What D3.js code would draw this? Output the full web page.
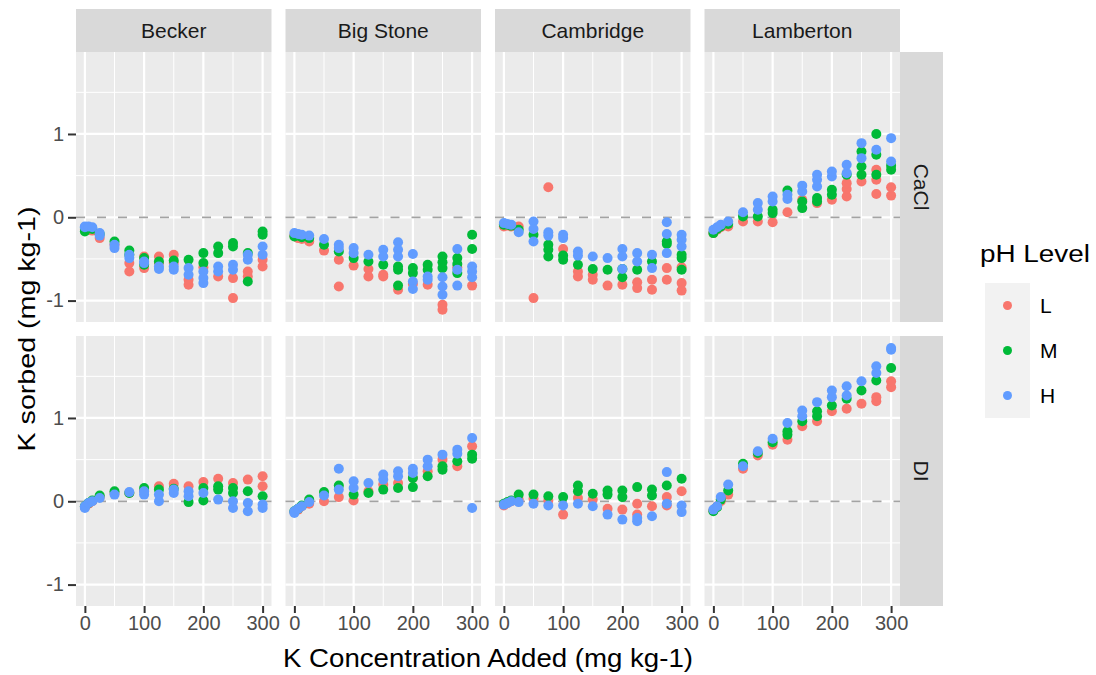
<!DOCTYPE html>
<html>
<head>
<meta charset="utf-8">
<script src="https://cdn.jsdelivr.net/npm/d3@7/dist/d3.min.js"></script>
<style>
  html, body { margin: 0; padding: 0; background: #ffffff; }
  svg { display: block; font-family: "Liberation Sans", Arial, sans-serif; }
</style>
</head>
<body>
<svg id="chart" width="1096" height="675"></svg>
<script>
// ---------------- data ----------------
const sites = ["Becker", "Big Stone", "Cambridge", "Lamberton"];
const solutions = ["CaCl", "DI"];
const phLevels = ["L", "M", "H"];
const phColors = ["#F8766D", "#00BA38", "#619CFF"];
const xTicks = [0, 100, 200, 300];
const yTicks = [-1, 0, 1];
const xMinor = [50, 150, 250];
const yMinor = [-0.5, 0.5, 1.5];

// rows: [K added, L values, M values, H values]
const beckerCaCl = [
  [0, [-0.15], [-0.17, -0.13], [-0.11, -0.12]],
  [6.25, [-0.15], [-0.13], [-0.11]],
  [12.5, [-0.16], [-0.14], [-0.12]],
  [25, [-0.25], [-0.2], [-0.19, -0.22]],
  [50, [-0.33], [-0.29], [-0.33, -0.37]],
  [75, [-0.55, -0.65], [-0.4, -0.45], [-0.45, -0.49]],
  [100, [-0.47, -0.61], [-0.49, -0.57], [-0.53, -0.55]],
  [125, [-0.47, -0.55], [-0.53], [-0.59, -0.62]],
  [150, [-0.45, -0.55], [-0.52], [-0.59, -0.63]],
  [175, [-0.75, -0.81], [-0.51], [-0.61, -0.69]],
  [200, [-0.6], [-0.43, -0.55], [-0.65, -0.73, -0.79]],
  [225, [-0.71], [-0.35, -0.43], [-0.59, -0.65]],
  [250, [-0.73, -0.97], [-0.31, -0.35], [-0.57, -0.63]],
  [275, [-0.65, -0.71], [-0.43, -0.77], [-0.45, -0.51]],
  [300, [-0.51, -0.59], [-0.17, -0.21], [-0.35, -0.45]]
];
const bigStoneCaCl = [
  [0, [-0.22], [-0.23], [-0.19]],
  [6.25, [-0.25], [-0.22], [-0.2]],
  [12.5, [-0.26], [-0.24], [-0.21]],
  [25, [-0.29], [-0.25], [-0.22]],
  [50, [-0.4], [-0.33], [-0.26]],
  [75, [-0.51, -0.83], [-0.41], [-0.33, -0.37]],
  [100, [-0.58], [-0.49], [-0.37, -0.43]],
  [125, [-0.62, -0.71], [-0.53], [-0.45]],
  [150, [-0.69, -0.71], [-0.57], [-0.39, -0.47]],
  [175, [-0.87], [-0.59, -0.63, -0.82], [-0.3, -0.39, -0.47]],
  [200, [-0.8], [-0.61, -0.67], [-0.44, -0.77, -0.86]],
  [225, [-0.81], [-0.57, -0.63], [-0.71, -0.75]],
  [250, [-1.05, -1.11], [-0.47, -0.54, -0.61], [-0.72, -0.83, -0.93]],
  [275, [-0.6], [-0.49, -0.56, -0.67], [-0.38, -0.63, -0.82]],
  [300, [-0.82], [-0.21, -0.38], [-0.59, -0.65, -0.72]]
];
const cambridgeCaCl = [
  [0, [-0.11], [-0.09], [-0.07]],
  [6.25, [-0.1], [-0.09], [-0.08]],
  [12.5, [-0.11], [-0.1], [-0.09]],
  [25, [-0.11], [-0.15], [-0.18]],
  [50, [-0.97], [-0.21], [-0.05, -0.14, -0.29]],
  [75, [0.36], [-0.33, -0.39, -0.47], [-0.18, -0.22]],
  [100, [-0.38], [-0.46, -0.51], [-0.21, -0.25]],
  [125, [-0.65, -0.71], [-0.57], [-0.41, -0.46]],
  [150, [-0.69, -0.75], [-0.62], [-0.47]],
  [175, [-0.82], [-0.63], [-0.49]],
  [200, [-0.81], [-0.62, -0.72], [-0.38, -0.47, -0.62]],
  [225, [-0.78, -0.85], [-0.63], [-0.43, -0.53]],
  [250, [-0.75, -0.87], [-0.53], [-0.45, -0.61]],
  [275, [-0.61, -0.75], [-0.29, -0.32], [-0.06, -0.2, -0.43]],
  [300, [-0.6, -0.79, -0.88], [-0.45, -0.49, -0.63], [-0.21, -0.27, -0.35]]
];
const lambertonCaCl = [
  [0, [-0.19], [-0.19], [-0.15]],
  [6.25, [-0.15], [-0.14], [-0.12]],
  [12.5, [-0.12], [-0.11], [-0.09]],
  [25, [-0.11], [-0.08], [-0.05]],
  [50, [-0.05], [0.01], [0.06]],
  [75, [-0.05], [0.01], [0.09, 0.17]],
  [100, [-0.06], [0.05, 0.09], [0.19, 0.25]],
  [125, [0.06], [0.32], [0.22, 0.27]],
  [150, [0.21], [0.11, 0.19], [0.31, 0.38]],
  [175, [0.17], [0.19, 0.23], [0.37, 0.45, 0.51]],
  [200, [0.21], [0.27, 0.33], [0.49, 0.55]],
  [225, [0.25, 0.34, 0.41], [0.51], [0.53, 0.63]],
  [250, [0.43], [0.51, 0.61, 0.79], [0.71, 0.89]],
  [275, [0.28, 0.45, 0.57], [0.51, 0.75, 1.0], [0.81]],
  [300, [0.26, 0.36], [0.57, 0.62], [0.67, 0.95]]
];
const beckerDI = [
  [0, [-0.07], [-0.06], [-0.06, -0.08]],
  [6.25, [-0.03], [-0.02], [-0.02]],
  [12.5, [0.0], [0.01], [0.0]],
  [25, [0.05], [0.07], [0.04]],
  [50, [0.1], [0.12], [0.08]],
  [75, [0.1], [0.1], [0.11]],
  [100, [0.13], [0.16], [0.08, 0.12]],
  [125, [0.18], [0.14], [0.0, 0.08]],
  [150, [0.21], [0.15], [0.1, 0.14]],
  [175, [0.18], [-0.01], [0.06, 0.12]],
  [200, [0.23], [0.01, 0.16], [0.1]],
  [225, [0.27], [0.14, 0.18], [0.02]],
  [250, [0.22], [0.1, 0.16], [-0.08, 0.0]],
  [275, [0.26], [0.12], [-0.02, -0.12]],
  [300, [0.18, 0.3], [0.06], [-0.04, -0.08]]
];
const bigStoneDI = [
  [0, [-0.13], [-0.12], [-0.12, -0.14]],
  [6.25, [-0.1], [-0.09], [-0.09]],
  [12.5, [-0.06], [-0.05], [-0.06]],
  [25, [-0.03], [0.02], [-0.01]],
  [50, [0.0], [0.11], [0.07]],
  [75, [0.05], [0.19], [0.14, 0.39]],
  [100, [0.01], [0.08], [0.16, 0.24]],
  [125, [0.12], [0.1], [0.22]],
  [150, [0.2], [0.14], [0.26, 0.32]],
  [175, [0.22], [0.16], [0.3, 0.36]],
  [200, [0.28], [0.17, 0.28], [0.34, 0.39]],
  [225, [0.36], [0.3], [0.42, 0.5]],
  [250, [0.5], [0.38, 0.42], [0.56]],
  [275, [0.42], [0.48], [0.57, 0.62]],
  [300, [0.66], [0.51, 0.56], [-0.08, 0.76]]
];
const cambridgeDI = [
  [0, [-0.05], [-0.03], [-0.04]],
  [6.25, [-0.02], [-0.01], [-0.02]],
  [12.5, [0.0], [0.01], [0.0]],
  [25, [0.02], [0.08], [-0.01]],
  [50, [0.03], [0.08], [-0.03]],
  [75, [0.01], [0.06], [-0.05]],
  [100, [-0.16], [0.05], [-0.05]],
  [125, [0.04], [0.12, 0.19], [-0.03]],
  [150, [0.02], [0.09], [-0.06]],
  [175, [-0.09], [0.08, 0.13], [-0.16]],
  [200, [-0.1], [0.05, 0.13], [-0.22]],
  [225, [-0.03, -0.16], [0.17], [-0.2, -0.24]],
  [250, [-0.06], [0.07, 0.14], [-0.18]],
  [275, [0.05, -0.05], [0.19], [-0.03, 0.35]],
  [300, [0.12], [0.27], [-0.05, -0.13]]
];
const lambertonDI = [
  [0, [-0.11], [-0.12], [-0.1]],
  [6.25, [-0.06], [-0.07], [-0.06]],
  [12.5, [0.0], [0.02], [0.05]],
  [25, [0.08], [0.13], [0.2]],
  [50, [0.39], [0.45], [0.42]],
  [75, [0.55], [0.58], [0.6]],
  [100, [0.68], [0.71], [0.75]],
  [125, [0.74], [0.8, 0.84], [0.94]],
  [150, [0.9], [0.96], [1.02, 1.09]],
  [175, [0.96], [1.02, 1.08], [1.19]],
  [200, [1.08], [1.15], [1.25, 1.33]],
  [225, [1.11], [1.23], [1.27, 1.38]],
  [250, [1.17], [1.33], [1.44]],
  [275, [1.2, 1.25], [1.45], [1.54, 1.62]],
  [300, [1.37, 1.44], [1.6], [1.82, 1.84]]
];

const panelData = {
  "Becker|CaCl": beckerCaCl, "Big Stone|CaCl": bigStoneCaCl,
  "Cambridge|CaCl": cambridgeCaCl, "Lamberton|CaCl": lambertonCaCl,
  "Becker|DI": beckerDI, "Big Stone|DI": bigStoneDI,
  "Cambridge|DI": cambridgeDI, "Lamberton|DI": lambertonDI
};

// ---------------- layout ----------------
const padL = 76, padT = 52, panelW = 195.5, panelH = 270, gapX = 14, gapY = 14;
const stripH = 43, stripW = 43;
const fontFam = '"Liberation Sans", Arial, sans-serif';

const svg = d3.select("#chart");

const x = d3.scaleLinear().domain([-15, 315]).range([0, panelW]);
const y = d3.scaleLinear().domain([-1.257, 1.984]).range([panelH, 0]);
const color = d3.scaleOrdinal().domain(phLevels).range(phColors);
const plainFmt = d => String(d);

solutions.forEach((sol, r) => {
  sites.forEach((site, c) => {
    const px = padL + c * (panelW + gapX);
    const py = padT + r * (panelH + gapY);
    const g = svg.append("g").attr("transform", `translate(${px},${py})`);

    g.append("rect").attr("width", panelW).attr("height", panelH).attr("fill", "#EBEBEB");

    // minor grid
    g.selectAll(".vmin").data(xMinor).enter().append("line")
      .attr("x1", d => x(d)).attr("x2", d => x(d)).attr("y1", 0).attr("y2", panelH)
      .attr("stroke", "#FFFFFF").attr("stroke-width", 1);
    g.selectAll(".hmin").data(yMinor).enter().append("line")
      .attr("y1", d => y(d)).attr("y2", d => y(d)).attr("x1", 0).attr("x2", panelW)
      .attr("stroke", "#FFFFFF").attr("stroke-width", 1);
    // major grid
    g.selectAll(".vmaj").data(xTicks).enter().append("line")
      .attr("x1", d => x(d)).attr("x2", d => x(d)).attr("y1", 0).attr("y2", panelH)
      .attr("stroke", "#FFFFFF").attr("stroke-width", 2.2);
    g.selectAll(".hmaj").data(yTicks).enter().append("line")
      .attr("y1", d => y(d)).attr("y2", d => y(d)).attr("x1", 0).attr("x2", panelW)
      .attr("stroke", "#FFFFFF").attr("stroke-width", 2.2);

    // zero dashed reference line
    g.append("line").attr("x1", 0).attr("x2", panelW).attr("y1", y(0)).attr("y2", y(0))
      .attr("stroke", "#A3A3A3").attr("stroke-width", 1.8).attr("stroke-dasharray", "9,12");

    // points
    const pts = [];
    const rows = panelData[site + "|" + sol];
    phLevels.forEach((ph, k) => {
      rows.forEach(row => row[k + 1].forEach(v => pts.push({ x: row[0], y: v, ph })));
    });
    g.selectAll("circle.pt").data(pts).enter().append("circle")
      .attr("class", "pt")
      .attr("cx", d => x(d.x)).attr("cy", d => y(d.y)).attr("r", 5)
      .attr("fill", d => color(d.ph));

    // top strips
    if (r === 0) {
      const sg = svg.append("g").attr("transform", `translate(${px},${padT - stripH})`);
      sg.append("rect").attr("width", panelW).attr("height", stripH).attr("fill", "#D9D9D9");
      sg.append("text").attr("x", panelW / 2).attr("y", stripH / 2 + 7.5)
        .attr("text-anchor", "middle").attr("font-size", 21).attr("fill", "#1A1A1A")
        .text(site);
    }
    // right strips
    if (c === sites.length - 1) {
      const sg = svg.append("g").attr("transform", `translate(${px + panelW},${py})`);
      sg.append("rect").attr("width", stripW).attr("height", panelH).attr("fill", "#D9D9D9");
      sg.append("text")
        .attr("transform", `translate(${stripW / 2 - 7.5},${panelH / 2}) rotate(90)`)
        .attr("text-anchor", "middle").attr("font-size", 21).attr("fill", "#1A1A1A")
        .text(sol);
    }
    // y axis on first column
    if (c === 0) {
      const ax = svg.append("g").attr("transform", `translate(${px},${py})`)
        .call(d3.axisLeft(y).tickValues(yTicks).tickFormat(plainFmt).tickSize(8).tickPadding(4));
      ax.select(".domain").remove();
      ax.selectAll(".tick line").attr("stroke", "#333333").attr("stroke-width", 2);
      ax.selectAll(".tick text").attr("font-size", 20).attr("fill", "#4D4D4D")
        .attr("font-family", fontFam);
    }
    // x axis on bottom row
    if (r === solutions.length - 1) {
      const ax = svg.append("g").attr("transform", `translate(${px},${py + panelH})`)
        .call(d3.axisBottom(x).tickValues(xTicks).tickFormat(plainFmt).tickSize(7).tickPadding(3));
      ax.select(".domain").remove();
      ax.selectAll(".tick line").attr("stroke", "#333333").attr("stroke-width", 2);
      ax.selectAll(".tick text").attr("font-size", 20).attr("fill", "#4D4D4D")
        .attr("font-family", fontFam);
    }
  });
});

// axis titles
const plotRight = padL + sites.length * panelW + (sites.length - 1) * gapX;
const plotBottom = padT + solutions.length * panelH + (solutions.length - 1) * gapY;
svg.append("text").attr("x", (padL + plotRight) / 2).attr("y", 667)
  .attr("text-anchor", "middle").attr("font-size", 25).attr("fill", "#000")
  .attr("textLength", 410).attr("lengthAdjust", "spacingAndGlyphs")
  .text("K Concentration Added (mg kg-1)");
svg.append("text").attr("transform", `translate(35,${(padT + plotBottom) / 2}) rotate(-90)`)
  .attr("text-anchor", "middle").attr("font-size", 24).attr("fill", "#000")
  .attr("textLength", 245).attr("lengthAdjust", "spacingAndGlyphs")
  .text("K sorbed (mg kg-1)");

// legend
const lg = svg.append("g").attr("transform", "translate(985,0)");
lg.append("text").attr("x", -5).attr("y", 262).attr("font-size", 23).attr("fill", "#000")
  .attr("textLength", 110).attr("lengthAdjust", "spacingAndGlyphs")
  .text("pH Level");
const keyH = 45, keyW = 45, keyTop = 283;
phLevels.forEach((ph, i) => {
  lg.append("rect").attr("x", 0).attr("y", keyTop + i * keyH).attr("width", keyW).attr("height", keyH)
    .attr("fill", "#F2F2F2");
  lg.append("circle").attr("cx", keyW / 2).attr("cy", keyTop + i * keyH + keyH / 2).attr("r", 4.5)
    .attr("fill", color(ph));
  lg.append("text").attr("x", keyW + 10).attr("y", keyTop + i * keyH + keyH / 2 + 7.5)
    .attr("font-size", 21).attr("fill", "#000").text(ph);
});
</script>
</body>
</html>
